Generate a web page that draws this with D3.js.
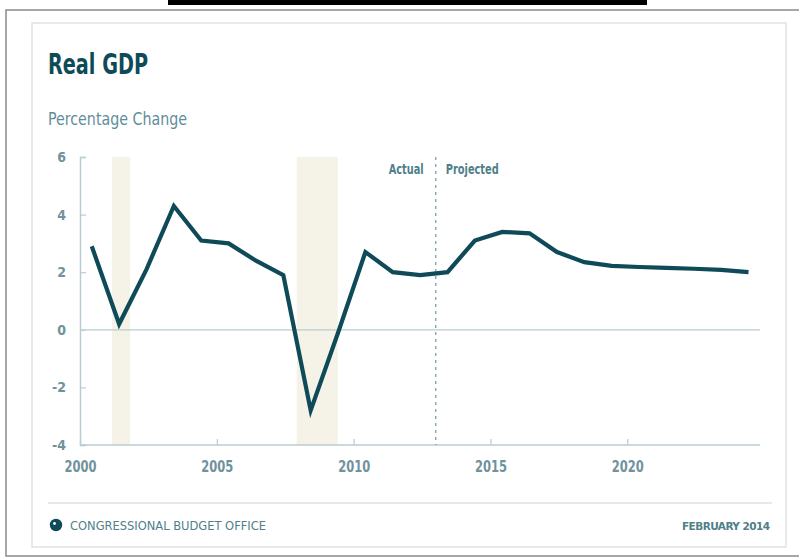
<!DOCTYPE html>
<html>
<head>
<meta charset="utf-8">
<script src="https://cdn.jsdelivr.net/npm/d3@7"></script>
<style>
  html, body { margin: 0; padding: 0; background: #ffffff; }
  svg { display: block; }
  text { font-family: "DejaVu Sans Condensed", "Liberation Sans Narrow", sans-serif; }
</style>
</head>
<body>
<svg id="chart" width="799" height="558"></svg>
<script>
// Real GDP, percentage change (fourth quarter to fourth quarter)
const years = [2000, 2001, 2002, 2003, 2004, 2005, 2006, 2007, 2008, 2009, 2010, 2011, 2012,
               2013, 2014, 2015, 2016, 2017, 2018, 2019, 2020, 2021, 2022, 2023, 2024];
const gdpGrowth = [2.9, 0.2, 2.1, 4.3, 3.1, 3.0, 2.4, 1.9, -2.8, -0.1, 2.7, 2.0, 1.9,
                   2.0, 3.1, 3.4, 3.35, 2.7, 2.35, 2.22, 2.18, 2.15, 2.12, 2.08, 2.0];

// Recessions (start, end in fractional years)
const recessionStart = [2001.17, 2007.92];
const recessionEnd   = [2001.83, 2009.42];

const yTicks = [-4, -2, 0, 2, 4, 6];
const xTicks = [2000, 2005, 2010, 2015, 2020];
const projectionStart = 2013;

const svg = d3.select("#chart");

const ink = "#0e4a57";
const labelInk = "#6f929c";
const axisInk = "#b9ccd2";

// outer frame and inner card
svg.append("rect").attr("x", 168).attr("y", 0).attr("width", 479).attr("height", 5).attr("fill", "#000");
svg.append("rect").attr("x", 6).attr("y", 10).attr("width", 800).attr("height", 546)
  .attr("fill", "#fff").attr("stroke", "#8a8a8a").attr("stroke-width", 1.5);
svg.append("rect").attr("x", 32).attr("y", 23).attr("width", 754).attr("height", 524)
  .attr("fill", "#fff").attr("stroke", "#e2e2e2").attr("stroke-width", 1.5);

const x = d3.scaleLinear().domain([2000, 2024.85]).range([80, 760]);
const y = d3.scaleLinear().domain([-4, 6]).range([445, 157]);
const pointOffset = 0.43;

// recession shading
svg.append("g").selectAll("rect")
  .data(recessionStart.map((s, i) => [s, recessionEnd[i]]))
  .join("rect")
  .attr("x", d => x(d[0]))
  .attr("width", d => x(d[1]) - x(d[0]))
  .attr("y", y(6))
  .attr("height", y(-4) - y(6))
  .attr("fill", "#f5f3e8");

// zero line
svg.append("line")
  .attr("x1", x(2000)).attr("x2", x.range()[1])
  .attr("y1", y(0)).attr("y2", y(0))
  .attr("stroke", axisInk).attr("stroke-width", 1.2);

// y axis
const yAxis = d3.axisLeft(y).tickValues(yTicks).tickSize(-6).tickPadding(14)
  .tickFormat(d => d < 0 ? "-" + Math.abs(d) : d);
const gy = svg.append("g").attr("transform", `translate(${x(2000)},0)`).call(yAxis);
gy.select(".domain").attr("stroke", axisInk).attr("stroke-width", 1.5);
gy.selectAll(".tick line").attr("stroke", axisInk).attr("stroke-width", 1.2);
gy.selectAll(".tick text").attr("fill", labelInk).attr("font-size", 14)
  .attr("font-weight", "bold")
  .style("font-family", '"DejaVu Sans Condensed", sans-serif');

// x axis
const xAxis = d3.axisBottom(x).tickValues(xTicks).tickSize(-6).tickPadding(16)
  .tickFormat(d3.format("d"));
const gx = svg.append("g").attr("transform", `translate(0,${y(-4)})`).call(xAxis);
gx.select(".domain").attr("stroke", axisInk).attr("stroke-width", 1.5)
  .attr("d", `M${x(2000)},0H${x.range()[1]}`);
gx.selectAll(".tick line").attr("stroke", axisInk).attr("stroke-width", 1.2);
gx.selectAll(".tick text").attr("fill", labelInk).attr("font-size", 16)
  .attr("font-weight", "bold")
  .attr("textLength", 32).attr("lengthAdjust", "spacingAndGlyphs")
  .style("font-family", '"DejaVu Sans Condensed", sans-serif');

// actual / projected divider
svg.append("line")
  .attr("x1", x(projectionStart)).attr("x2", x(projectionStart))
  .attr("y1", y(6)).attr("y2", y(-4))
  .attr("stroke", "#7f9fa9").attr("stroke-width", 1.3)
  .attr("stroke-dasharray", "3,4");
svg.append("text").attr("x", x(projectionStart) - 12).attr("y", 174)
  .attr("text-anchor", "end").attr("fill", "#4f7f8a").attr("font-size", 13.5)
  .attr("font-weight", "bold")
  .attr("textLength", 35).attr("lengthAdjust", "spacingAndGlyphs").text("Actual");
svg.append("text").attr("x", x(projectionStart) + 10).attr("y", 174)
  .attr("fill", "#4f7f8a").attr("font-size", 13.5)
  .attr("font-weight", "bold")
  .attr("textLength", 53).attr("lengthAdjust", "spacingAndGlyphs").text("Projected");

// GDP line
const line = d3.line()
  .x((d, i) => x(years[i] + pointOffset))
  .y(d => y(d));
svg.append("path").datum(gdpGrowth)
  .attr("d", line)
  .attr("fill", "none")
  .attr("stroke", ink)
  .attr("stroke-width", 4.2)
  .attr("stroke-linejoin", "miter")
  .attr("stroke-linecap", "butt");

// titles
svg.append("text").attr("x", 48).attr("y", 74)
  .attr("fill", ink).attr("font-size", 27.5).attr("font-weight", "bold")
  .attr("textLength", 100).attr("lengthAdjust", "spacingAndGlyphs")
  .text("Real GDP");
svg.append("text").attr("x", 48).attr("y", 125)
  .attr("fill", "#5f8e99").attr("font-size", 17.5)
  .attr("textLength", 139).attr("lengthAdjust", "spacingAndGlyphs")
  .text("Percentage Change");

// footer
svg.append("line").attr("x1", 48).attr("x2", 772).attr("y1", 503).attr("y2", 503)
  .attr("stroke", "#e0e0e0").attr("stroke-width", 1.5);
svg.append("circle").attr("cx", 56).attr("cy", 525).attr("r", 6.2).attr("fill", ink);
svg.append("circle").attr("cx", 54.5).attr("cy", 523.5).attr("r", 1.4).attr("fill", "#fff");
svg.append("text").attr("x", 70).attr("y", 530)
  .attr("fill", "#507f8a").attr("font-size", 11.5)
  .attr("textLength", 196).attr("lengthAdjust", "spacing")
  .style("font-family", '"DejaVu Sans", sans-serif')
  .text("CONGRESSIONAL BUDGET OFFICE");
svg.append("text").attr("x", 682).attr("y", 530)
  .attr("fill", "#507f8a").attr("font-size", 10.5).attr("font-weight", "bold")
  .attr("textLength", 88).attr("lengthAdjust", "spacing")
  .style("font-family", '"DejaVu Sans", sans-serif')
  .text("FEBRUARY 2014");
</script>
</body>
</html>
